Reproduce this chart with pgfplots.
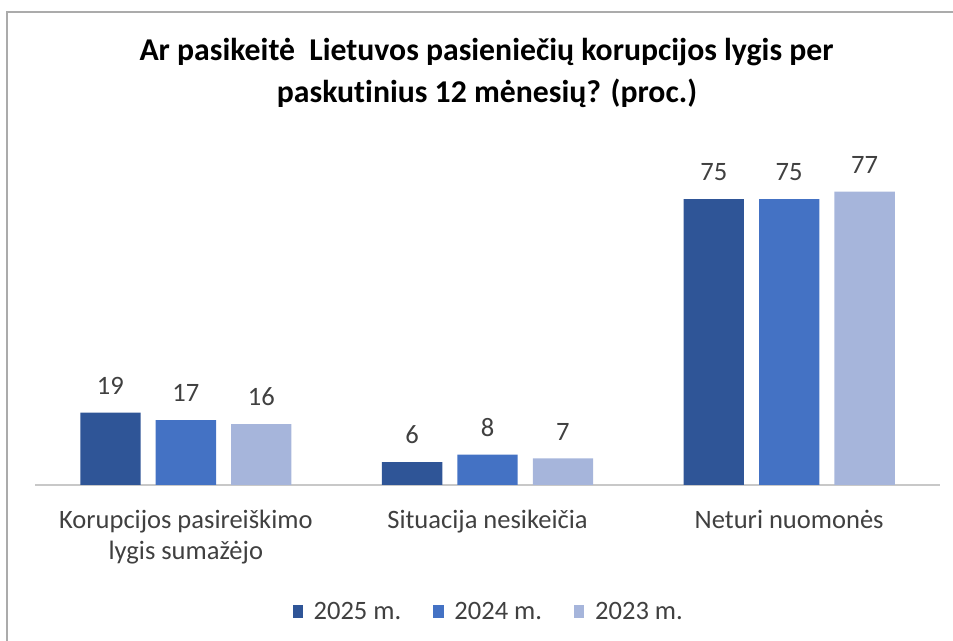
\documentclass[border=0pt]{standalone}
\usepackage{fontspec}
\setmainfont{Carlito}[Ligatures=NoCommon]
\usepackage{pgfplots}
\pgfplotsset{compat=1.18}
\definecolor{c25}{HTML}{2F5597}
\definecolor{c24}{HTML}{4472C4}
\definecolor{c23}{HTML}{A6B5DB}
\definecolor{txt}{HTML}{404040}
\definecolor{framec}{HTML}{ABABAB}
\definecolor{axisgray}{HTML}{C8C8C8}
\begin{document}
\begin{tikzpicture}[x=0.75pt,y=0.75pt]
\path[use as bounding box] (0,0) rectangle (953,641);
\draw[framec, line width=1.5pt] (7,-10) -- (7,629) -- (965,629);
\node[anchor=base, inner sep=0pt, font=\bfseries\fontsize{23.8}{27}\selectfont] at (486.5,580) {Ar pasikeitė\ \ Lietuvos pasieniečių korupcijos lygis per};
\node[anchor=base, inner sep=0pt, font=\bfseries\fontsize{23.8}{27}\selectfont] at (487,538) {paskutinius 12 mėnesių? (proc.)};
\begin{axis}[
  at={(26.25pt,117pt)}, anchor=south west,
  scale only axis, width=678.75pt, height=257.2pt,
  xmin=-0.5, xmax=2.5, ymin=0, ymax=90,
  axis x line=bottom, axis y line=none,
  x axis line style={-, draw=axisgray, line width=1.2pt},
  xtick={0,1,2},
  xticklabels={{Korupcijos pasireiškimo\\lygis sumažėjo}, {Situacija nesikeičia}, {Neturi nuomonės}},
  xtick style={draw=none}, major tick length=0pt,
  xticklabel style={align=center, font=\fontsize{19.9}{23.25}\selectfont, text=txt, yshift=-15pt},
  ytick=\empty,
  ybar,
  bar width=0.2,
  clip=false,
  nodes near coords,
  every node near coord/.append style={font=\fontsize{19.9}{22}\selectfont, text=txt, inner sep=0pt, yshift=13.5pt},
  /pgf/number format/assume math mode=true,
  legend columns=3,
  legend style={at={(0.5017,-0.3700)}, anchor=center, draw=none, fill=none,
    font=\fontsize{19.9}{22}\selectfont, text=txt,
    /tikz/every even column/.append style={column sep=22pt},
    /tikz/every odd column/.append style={column sep=6pt}},
  legend image code/.code={\fill[#1] (0pt,-4.5pt) rectangle (7.8pt,5.2pt);},
]
\addplot[bar shift=-0.25, fill=c25, draw=none] coordinates {(0,19) (1,6) (2,75)};
\addlegendentry{2025 m.}
\addplot[bar shift=0, fill=c24, draw=none] coordinates {(0,17) (1,8) (2,75)};
\addlegendentry{2024 m.}
\addplot[bar shift=0.25, fill=c23, draw=none] coordinates {(0,16) (1,7) (2,77)};
\addlegendentry{2023 m.}
\end{axis}
\end{tikzpicture}
\end{document}
